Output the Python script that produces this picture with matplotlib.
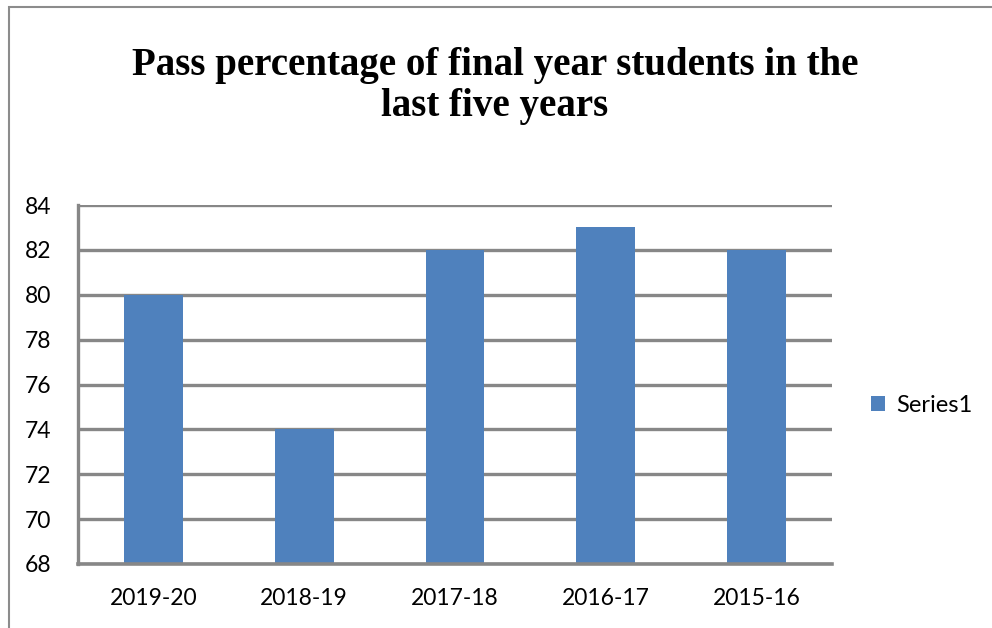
import matplotlib
matplotlib.use("Agg")
import matplotlib.pyplot as plt
from matplotlib.patches import Rectangle

categories = ["2019-20", "2018-19", "2017-18", "2016-17", "2015-16"]
values = [80, 74, 82, 83, 82]
yticks = [68, 70, 72, 74, 76, 78, 80, 82, 84]
series_name = "Series1"
title = "Pass percentage of final year students in the\nlast five years"

W, H = 992, 628
fig = plt.figure(figsize=(W / 100, H / 100), dpi=100)
fig.patch.set_facecolor("white")

# chart border
fig.patches.append(Rectangle((9 / W, -0.01), 1.02, 1 - 7 / H + 0.01, transform=fig.transFigure,
                             fill=False, edgecolor="#8c8c8c", linewidth=1.5, figure=fig))

ax = fig.add_axes([78 / W, 1 - 564 / H, (832 - 78) / W, (564 - 205) / H])
x = list(range(len(categories)))
ax.bar(x, values, width=0.39, color="#4F81BD", zorder=3, label=series_name)
ax.set_ylim(68, 84)
ax.set_xlim(-0.5, len(categories) - 0.5)
ax.set_yticks(yticks)
ax.set_xticks(x)
ax.set_xticklabels(categories)
grid_c = "#878787"
ax.yaxis.grid(True, color=grid_c, linewidth=2.4, zorder=1)
ax.set_axisbelow(True)
for s in ["top", "right"]:
    ax.spines[s].set_visible(False)
ax.spines["left"].set_color(grid_c)
ax.spines["left"].set_linewidth(2.4)
ax.spines["bottom"].set_color(grid_c)
ax.spines["bottom"].set_linewidth(2.6)
ax.spines["bottom"].set_zorder(4)
ax.tick_params(axis="both", length=0, labelsize=16.5, colors="black")
ax.tick_params(axis="y", pad=19)
ax.tick_params(axis="x", pad=17)
for lab in ax.get_xticklabels() + ax.get_yticklabels():
    lab.set_fontfamily("Lato")

fig.text(495 / W, 1 - 86 / H, title, ha="center", va="center", fontsize=28,
         fontweight="bold", family="Liberation Serif", linespacing=1.15)

leg = fig.legend(loc="center left", bbox_to_anchor=(850 / W, 1 - 405 / H), frameon=False,
                 prop={"family": "Lato", "size": 17}, handlelength=0.6, handleheight=0.6,
                 handletextpad=0.45)

fig.savefig("out.png", dpi=100)
